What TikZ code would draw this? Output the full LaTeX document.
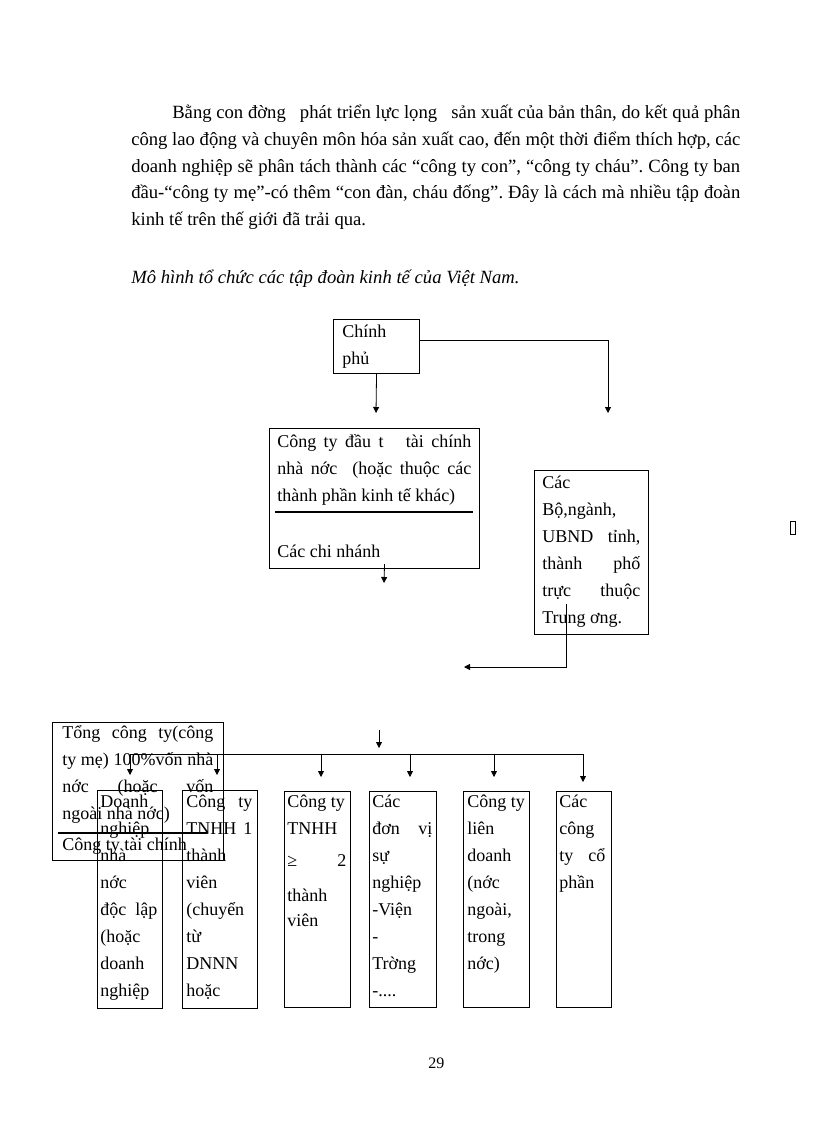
\documentclass[tikz,border=0pt]{standalone}
\usepackage{fontspec}
\setmainfont{Liberation Serif}
\usetikzlibrary{arrows.meta}
\frenchspacing
\newcommand{\jline}[1]{\hbox to\hsize{#1}}
\newcommand{\nline}[1]{\hbox{#1}}
\newcommand{\btext}[2]{\vtop{\hsize=#1\baselineskip=20.25pt\lineskiplimit=-100pt\lineskip=0pt\relax #2}}
\begin{document}
\begin{tikzpicture}[x=0.75pt,y=-0.75pt,
  every node/.style={font=\fontsize{13.5}{20.25}\selectfont, inner sep=0pt},
  txt/.style={anchor=base west},
  body/.style={anchor=base west, font=\fontsize{14}{20.25}\selectfont},
  box/.style={draw, line width=0.8pt, anchor=north west},
  conn/.style={line width=0.6pt},
  arr/.style={line width=0.6pt, -{Triangle[length=4.5pt,width=4.5pt]}},
  rulebar/.style={line width=1.6pt}]
\useasboundingbox (0,0) rectangle (816,1123);

% body text
\node[body] (p1) at (172,119) {\hbox to 426pt{Bằng con đờng\ \ \ phát triển lực lọng\ \ \ sản xuất của bản thân, do kết quả phân}};
\node[body] (p2) at (131,146) {\hbox to 456.75pt{công lao động và chuyên môn hóa sản xuất cao, đến một thời điểm thích hợp, các}};
\node[body] (p3) at (131,173) {\hbox to 456.75pt{doanh nghiệp sẽ phân tách thành các “công ty con”, “công ty cháu”. Công ty ban}};
\node[body] (p4) at (131,199) {\hbox to 456.75pt{đầu-“công ty mẹ”-có thêm “con đàn, cháu đống”. Đây là cách mà nhiều tập đoàn}};
\node[body] (p5) at (131,226) {kinh tế trên thế giới đã trải qua.};
\node[body] (cap) at (131,283) {\itshape Mô hình tổ chức các tập đoàn kinh tế của Việt Nam.};

% boxes
\node[box, minimum width=64.5pt, minimum height=40.5pt] (cp) at (333,319) {};
\node[box, minimum width=157.5pt, minimum height=105pt] (ct) at (269,428) {};
\node[box, minimum width=85.5pt, minimum height=123pt] (bo) at (534,470) {};
\node[box, minimum width=128.25pt, minimum height=103.5pt] (tg) at (52,722) {};
\node[box, minimum width=48.75pt, minimum height=163.5pt] (b1) at (97,790) {};
\node[box, minimum width=56.25pt, minimum height=163.5pt] (b2) at (182,790) {};
\node[box, minimum width=49.5pt, minimum height=162pt] (b3) at (284,791) {};
\node[box, minimum width=50.25pt, minimum height=162pt] (b4) at (369,791) {};
\node[box, minimum width=49.5pt, minimum height=162pt] (b5) at (463,791) {};
\node[box, minimum width=41.25pt, minimum height=162pt] (b6) at (556,791) {};

% box texts
\node[txt] (cpt) at (342,337) {\btext{45pt}{\nline{Chính}\nline{phủ}}};
\node[txt] (ctt) at (277,447) {\btext{145.5pt}{\jline{Công ty đầu t\ \ \ tài chính}\jline{nhà nớc\ \ (hoặc thuộc các}\nline{thành phần kinh tế khác)}\nline{}\vskip1.5pt\nline{Các chi nhánh}}};
\node[txt] (bot) at (542,488) {\btext{73.5pt}{\nline{Các}\nline{Bộ,ngành,}\jline{UBND tỉnh,}\jline{thành phố}\jline{trực thuộc}\nline{Trung ơng.}}};
\node[txt] (tgt) at (62,738) {\btext{113.25pt}{\jline{Tổng công ty(công}\jline{ty mẹ) 100\%vốn nhà}\jline{nớc (hoặc vốn}\nline{ngoài nhà nớc)}\vskip3pt\nline{Công ty tài chính}}};
\node[txt] (b1t) at (100,807) {\btext{42.75pt}{\nline{Doanh}\nline{nghiệp}\nline{nhà}\nline{nớc}\jline{độc lập}\nline{(hoặc}\nline{doanh}\nline{nghiệp}}};
\node[txt] (b2t) at (186,807) {\btext{49.5pt}{\jline{Công ty}\jline{TNHH 1}\nline{thành}\nline{viên}\nline{(chuyển}\nline{từ}\nline{DNNN}\nline{hoặc}}};
\node[txt] (b3t) at (287,807) {\btext{44.25pt}{\nline{Công ty}\nline{TNHH}\vskip3.75pt\jline{≥ 2}\vskip6pt\nline{thành}\vskip-1.5pt\nline{viên}}};
\node[txt] (b4t) at (372,807) {\btext{45pt}{\nline{Các}\jline{đơn vị}\nline{sự}\nline{nghiệp}\nline{-Viện}\nline{-}\nline{Trờng}\nline{-....}}};
\node[txt] (b5t) at (467,807) {\btext{43.5pt}{\nline{Công ty}\nline{liên}\nline{doanh}\nline{(nớc}\nline{ngoài,}\nline{trong}\nline{nớc)}}};
\node[txt] (b6t) at (559,807) {\btext{34.5pt}{\nline{Các}\nline{công}\jline{ty cổ}\nline{phần}}};

% thick rules inside boxes
\draw[rulebar] (275,512) -- (473,512);
\draw[rulebar] (58,833) -- (207,833);

% connectors
\coordinate (ta) at (376,413);
\draw[arr] (cp.south) -- (ta);
\coordinate (tb) at (608,413);
\draw[arr] ([yshift=4.5pt]cp.east) -| (tb);
\coordinate (cn) at (384,583);
\draw[arr] ([xshift=7.5pt,yshift=3.75pt]ct.south) -- (cn);
\coordinate (bt) at (464,667);
\draw[arr] ([xshift=-18.75pt,yshift=23.25pt]bo.south) |- (bt);
\coordinate (ts) at (379,730);
\coordinate (tt) at (379,748);
\draw[arr] (ts) -- (tt);
\coordinate (busL) at (130,754);
\coordinate (busR) at (583,754);
\draw[conn] (busL) -- (busR);
\coordinate (a1) at (130,775);
\coordinate (a2) at (217,775);
\coordinate (a3) at (321,777);
\coordinate (a4) at (410,777);
\coordinate (a5) at (494,777);
\coordinate (a6) at (583,782);
\foreach \i in {1,...,6} \draw[arr] (a\i |- busL) -- (a\i);

% stray glyph box
\draw[line width=0.6pt] (790,521) rectangle (795,534);

% page number
\node[txt, font=\fontsize{12}{14}\selectfont] (pg) at (428,1068) {29};
\end{tikzpicture}
\end{document}
